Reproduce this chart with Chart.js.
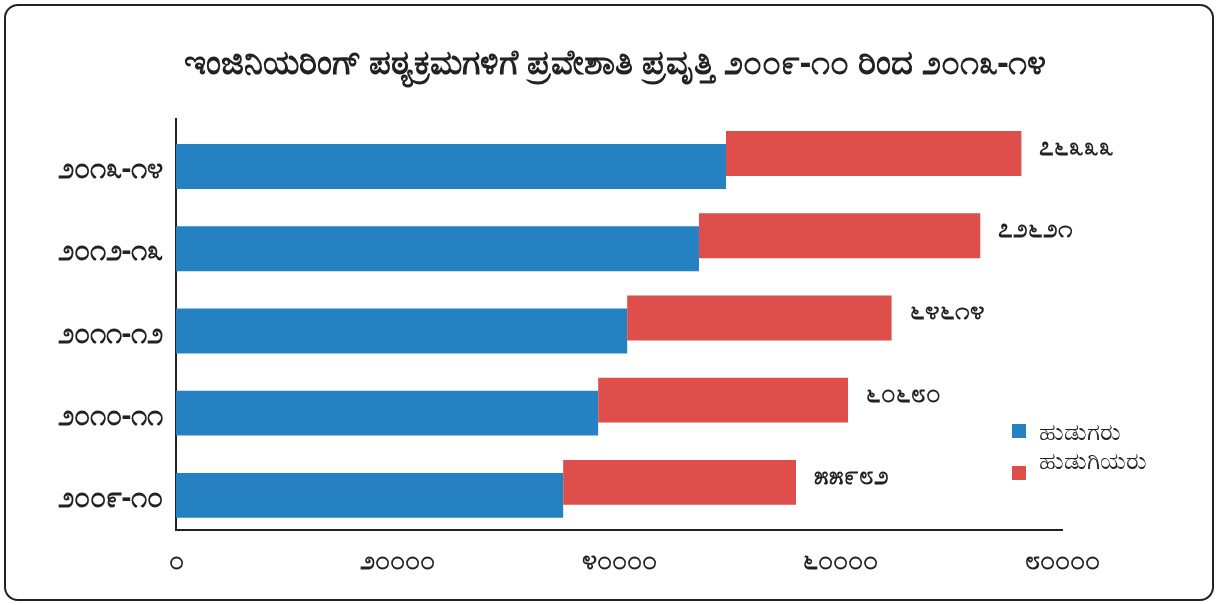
<!DOCTYPE html>
<html>
<head>
<meta charset="utf-8">
<script src="https://cdn.jsdelivr.net/npm/chart.js@4.4.1/dist/chart.umd.min.js"></script>
<style>
    body { margin: 0; background: #fff; }
    #wrap { position: relative; width: 1220px; height: 605px; }
    #frame {
        position: absolute; left: 4px; top: 4px; width: 1206px; height: 593px;
        border: 2px solid #222; border-radius: 14px; pointer-events: none;
    }
</style>
</head>
<body>
<div id="wrap">
    <canvas id="chartIngenieria" width="1220" height="605"></canvas>
    <div id="frame"></div>
</div>
<script>
const anios = ['೨೦೧೩-೧೪', '೨೦೧೨-೧೩', '೨೦೧೧-೧೨', '೨೦೧೦-೧೧', '೨೦೦೯-೧೦'];
const hudugaru = [49660, 47220, 40740, 38120, 34960];
const hudugiyaru = [26673, 25401, 23874, 22560, 21022];
const ticksX = [0, 20000, 40000, 60000, 80000];

const azul = '#2581c1';
const rojo = '#de4f4b';
const fuente = "'Noto Sans', 'DejaVu Sans', sans-serif";

const aKannada = n => String(n).replace(/[0-9]/g, d => String.fromCharCode(0x0CE6 + Number(d)));

const totales = hudugaru.map((v, i) => v + hudugiyaru[i]);

// etiquetas al final de cada barra roja + leyenda a mano
const etiquetas = {
    id: 'etiquetas',
    afterDatasetsDraw(chart) {
        const ctx = chart.ctx;
        const meta = chart.getDatasetMeta(1);
        ctx.save();
        ctx.fillStyle = '#222';
        ctx.font = 'bold 26px ' + fuente;
        ctx.textBaseline = 'middle';
        ctx.textAlign = 'left';
        meta.data.forEach((bar, i) => {
            ctx.fillText(aKannada(totales[i]), bar.x + 18, bar.y - 6);
        });

        ctx.font = '24px ' + fuente;
        const cajas = [{ y: 424, ty: 433 }, { y: 466, ty: 462 }];
        chart.data.datasets.forEach((ds, i) => {
            ctx.fillStyle = ds.backgroundColor;
            ctx.fillRect(1012, cajas[i].y, 14, 14);
            ctx.fillStyle = '#222';
            ctx.fillText(ds.label, 1039, cajas[i].ty);
        });
        ctx.restore();
    }
};

const canvas = document.getElementById('chartIngenieria');
const ctx = canvas.getContext('2d');

const chartIngenieria = new Chart(ctx, {
    type: 'bar',
    data: {
        labels: anios,
        datasets: [{
            label: 'ಹುಡುಗರು',
            data: hudugaru,
            backgroundColor: azul,
            order: 1
        }, {
            label: 'ಹುಡುಗಿಯರು',
            data: hudugaru.map((v, i) => [v, v + hudugiyaru[i]]),
            backgroundColor: rojo,
            order: 0
        }]
    },
    options: {
        indexAxis: 'y',
        responsive: false,
        animation: false,
        categoryPercentage: 0.316,
        barPercentage: 3.46,
        layout: { padding: { left: 10, right: 0, top: 0, bottom: 0 } },
        plugins: {
            legend: { display: false },
            tooltip: { enabled: false },
            title: {
                display: true,
                text: 'ಇಂಜಿನಿಯರಿಂಗ್ ಪಠ್ಯಕ್ರಮಗಳಿಗೆ ಪ್ರವೇಶಾತಿ ಪ್ರವೃತ್ತಿ ೨೦೦೯-೧೦ ರಿಂದ ೨೦೧೩-೧೪',
                color: '#222',
                font: { family: fuente, size: 34, weight: 'bold' },
                padding: { top: 44, bottom: 34 }
            }
        },
        scales: {
            x: {
                min: 0,
                max: 80000,
                afterBuildTicks: s => { s.ticks = ticksX.map(v => ({ value: v })); },
                grid: { display: false, drawTicks: false },
                border: { display: true, color: '#222', width: 2 },
                ticks: {
                    color: '#222',
                    padding: 15,
                    font: { family: fuente, size: 27, weight: 'bold' },
                    callback: v => aKannada(v)
                },
                afterFit: s => { s.height = 75; }
            },
            y: {
                grid: { display: false, drawTicks: false },
                border: { display: true, color: '#222', width: 2 },
                ticks: {
                    color: '#222',
                    padding: 13,
                    labelOffset: 10,
                    font: { family: fuente, size: 29, weight: 'bold' }
                },
                afterFit: s => { s.width = 166; }
            },
            // eje vacío a la derecha para dejar sitio a las etiquetas y la leyenda
            yDerecha: {
                type: 'category',
                position: 'right',
                grid: { display: false, drawTicks: false },
                border: { display: false },
                ticks: { display: false },
                afterFit: s => { s.width = 158; }
            }
        }
    },
    plugins: [etiquetas]
});
</script>
</body>
</html>
